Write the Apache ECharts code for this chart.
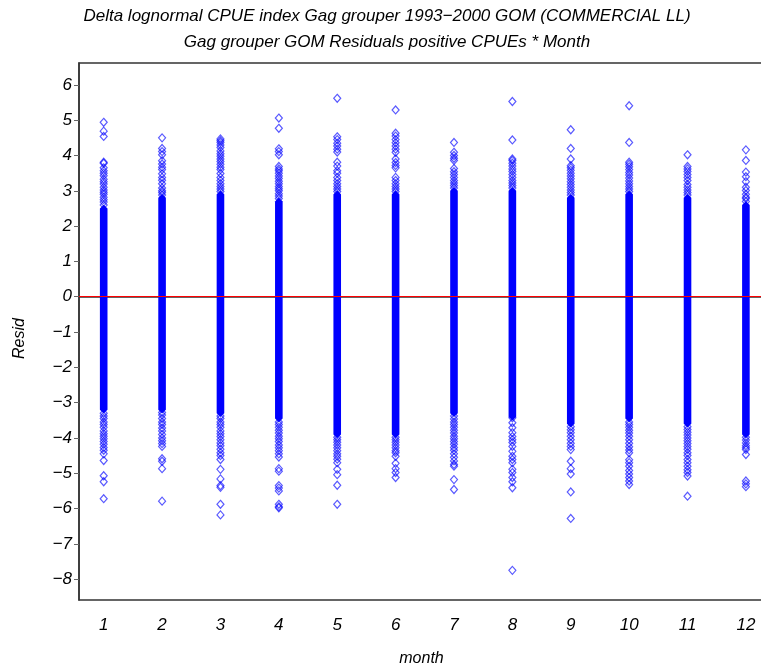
<!DOCTYPE html>
<html>
<head>
<meta charset="utf-8">
<script src="https://cdn.jsdelivr.net/npm/echarts@6/dist/echarts.min.js"></script>
<style>
  html, body { margin: 0; padding: 0; background: #ffffff; }
  #chart { width: 761px; height: 671px; }
</style>
</head>
<body>
<div id="chart"></div>
<script>
// Residuals of positive CPUE records by month (delta-lognormal model, gag grouper, GOM commercial longline)
const titleLines = [
  'Delta lognormal CPUE index Gag grouper 1993\u22122000 GOM (COMMERCIAL LL)',
  'Gag grouper GOM Residuals positive CPUEs * Month'
];
const months = [1, 2, 3, 4, 5, 6, 7, 8, 9, 10, 11, 12];
const yTicks = [6, 5, 4, 3, 2, 1, 0, -1, -2, -3, -4, -5, -6, -7, -8];

// Range of the solid, fully overplotted part of each month's column
const bandLow  = [-3.2, -3.2, -3.3, -3.45, -3.9, -3.9, -3.3, -3.4, -3.6, -3.45, -3.6, -3.9];
const bandHigh = [2.5, 2.8, 2.9, 2.7, 2.9, 2.9, 3.0, 3.0, 2.8, 2.9, 2.8, 2.6];

// Individually visible residuals above the solid band
const upperResid = [
  [2.6, 2.68, 2.75, 2.82, 2.9, 2.96, 3.02, 3.1, 3.19, 3.26, 3.33, 3.43, 3.5, 3.57, 3.65, 3.78, 3.81, 4.54, 4.69, 4.94],
  [2.88, 2.95, 3.0, 3.08, 3.2, 3.3, 3.38, 3.48, 3.6, 3.67, 3.76, 3.85, 4.02, 4.11, 4.2, 4.5],
  [2.98, 3.05, 3.12, 3.2, 3.29, 3.38, 3.49, 3.6, 3.67, 3.75, 3.83, 3.9, 3.98, 4.05, 4.13, 4.23, 4.3, 4.37, 4.42, 4.47],
  [2.78, 2.85, 2.92, 3.0, 3.06, 3.12, 3.2, 3.27, 3.35, 3.42, 3.5, 3.57, 3.62, 3.69, 4.02, 4.11, 4.19, 4.77, 5.06],
  [2.98, 3.05, 3.12, 3.2, 3.29, 3.38, 3.5, 3.57, 3.7, 3.81, 4.1, 4.18, 4.27, 4.35, 4.45, 4.53, 5.62],
  [2.98, 3.05, 3.12, 3.2, 3.29, 3.38, 3.65, 3.72, 3.8, 3.9, 4.09, 4.18, 4.27, 4.36, 4.45, 4.55, 4.63, 5.29],
  [3.08, 3.15, 3.22, 3.29, 3.38, 3.46, 3.54, 3.63, 3.86, 3.92, 4.0, 4.09, 4.37],
  [3.08, 3.15, 3.22, 3.29, 3.38, 3.46, 3.55, 3.62, 3.7, 3.78, 3.86, 3.9, 4.44, 5.53],
  [2.88, 2.95, 3.02, 3.1, 3.18, 3.26, 3.34, 3.42, 3.5, 3.58, 3.65, 3.71, 3.9, 4.2, 4.73],
  [2.98, 3.05, 3.12, 3.2, 3.28, 3.36, 3.45, 3.52, 3.6, 3.68, 3.75, 3.81, 4.37, 5.41],
  [2.88, 2.95, 3.02, 3.1, 3.18, 3.29, 3.38, 3.46, 3.55, 3.62, 3.69, 4.02],
  [2.7, 2.78, 2.82, 2.9, 3.01, 3.1, 3.26, 3.4, 3.53, 3.86, 4.16]
];

// Individually visible residuals below the solid band
const lowerResid = [
  [-3.3, -3.38, -3.45, -3.55, -3.62, -3.7, -3.8, -3.88, -3.95, -4.02, -4.1, -4.18, -4.27, -4.35, -4.45, -4.64, -5.07, -5.24, -5.72],
  [-3.28, -3.35, -3.45, -3.55, -3.62, -3.72, -3.8, -3.9, -4.0, -4.08, -4.16, -4.24, -4.59, -4.66, -4.87, -5.79],
  [-3.38, -3.45, -3.55, -3.62, -3.7, -3.8, -3.88, -3.96, -4.05, -4.14, -4.22, -4.32, -4.42, -4.5, -4.61, -4.89, -5.16, -5.35, -5.4, -5.88, -6.18],
  [-3.55, -3.62, -3.7, -3.78, -3.86, -3.95, -4.02, -4.1, -4.2, -4.28, -4.36, -4.45, -4.54, -4.87, -4.94, -5.35, -5.42, -5.5, -5.88, -5.95, -5.98],
  [-3.98, -4.05, -4.12, -4.2, -4.28, -4.36, -4.45, -4.52, -4.6, -4.7, -4.89, -5.04, -5.34, -5.88],
  [-3.98, -4.05, -4.12, -4.2, -4.28, -4.36, -4.42, -4.52, -4.72, -4.87, -4.98, -5.12],
  [-3.38, -3.46, -3.55, -3.62, -3.7, -3.78, -3.86, -3.95, -4.02, -4.1, -4.18, -4.27, -4.35, -4.45, -4.55, -4.65, -4.75, -4.8, -5.18, -5.46],
  [-3.43, -3.57, -3.71, -3.85, -3.96, -4.05, -4.13, -4.24, -4.38, -4.52, -4.61, -4.7, -4.89, -4.98, -5.12, -5.24, -5.41, -7.75],
  [-3.68, -3.77, -3.85, -3.95, -4.05, -4.15, -4.24, -4.33, -4.66, -4.87, -5.02, -5.53, -6.28],
  [-3.55, -3.62, -3.7, -3.78, -3.86, -3.95, -4.05, -4.15, -4.25, -4.34, -4.42, -4.62, -4.7, -4.8, -4.92, -5.02, -5.12, -5.22, -5.32],
  [-3.68, -3.76, -3.84, -3.92, -4.0, -4.08, -4.16, -4.24, -4.32, -4.42, -4.5, -4.61, -4.7, -4.8, -4.9, -4.98, -5.08, -5.65],
  [-3.98, -4.06, -4.14, -4.22, -4.28, -4.33, -4.47, -5.22, -5.3, -5.38]
];

const FONT = '"Liberation Sans", Arial, sans-serif';
const BLUE = '#0000ff';
const HALF = 3.8; // half-height of a diamond marker, px

const bandData = months.map((m, i) => [m, bandLow[i], bandHigh[i]]);
const pointData = [];
months.forEach((m, i) => {
  upperResid[i].forEach(v => pointData.push([m, v]));
  lowerResid[i].forEach(v => pointData.push([m, v]));
});

const chart = echarts.init(document.getElementById('chart'), null, { renderer: 'canvas' });

chart.setOption({
  animation: false,
  backgroundColor: '#ffffff',
  title: {
    text: titleLines.join('\n'),
    left: 382,
    textAlign: 'center',
    top: -2,
    textStyle: {
      fontFamily: FONT, fontStyle: 'italic', fontWeight: 'normal',
      fontSize: 17, lineHeight: 26, color: '#000'
    }
  },
  grid: {
    left: 79, top: 63, width: 685, height: 537,
    containLabel: false,
    outerBoundsMode: 'none',
    show: true, borderColor: '#333', borderWidth: 1.5, backgroundColor: 'transparent'
  },
  xAxis: {
    type: 'value',
    min: 0.577, max: 12.31,
    name: 'month', nameLocation: 'middle', nameGap: 51,
    nameTextStyle: { fontFamily: FONT, fontStyle: 'italic', fontSize: 16, color: '#000' },
    axisLine: { show: true, lineStyle: { color: '#333', width: 1.5 } },
    axisTick: { show: true, length: 6, customValues: months, lineStyle: { color: '#666' } },
    axisLabel: {
      customValues: months, margin: 17,
      fontFamily: FONT, fontStyle: 'italic', fontSize: 17, color: '#000'
    },
    splitLine: { show: false }
  },
  yAxis: {
    type: 'value',
    min: -8.59, max: 6.62,
    name: 'Resid', nameLocation: 'middle', nameGap: 51,
    nameTextStyle: { fontFamily: FONT, fontStyle: 'italic', fontSize: 16, color: '#000', padding: [0, 14, 0, 0] },
    axisLine: { show: true, lineStyle: { color: '#333', width: 1.5 } },
    axisTick: { show: true, length: 5, customValues: yTicks, lineStyle: { color: '#666' } },
    axisLabel: {
      customValues: yTicks, margin: 7,
      fontFamily: FONT, fontStyle: 'italic', fontSize: 17, color: '#000',
      formatter: v => String(v).replace('-', '\u2212')
    },
    splitLine: { show: false }
  },
  series: [
    {
      type: 'custom',
      name: 'dense',
      data: bandData,
      encode: { x: 0, y: [1, 2] },
      renderItem: (params, api) => {
        const m = api.value(0);
        const lo = api.coord([m, api.value(1)]);
        const hi = api.coord([m, api.value(2)]);
        const x = hi[0];
        return {
          type: 'polygon',
          shape: {
            points: [
              [x, hi[1] - HALF], [x + HALF, hi[1]], [x + HALF, lo[1]],
              [x, lo[1] + HALF], [x - HALF, lo[1]], [x - HALF, hi[1]]
            ]
          },
          style: { fill: BLUE }
        };
      },
      z: 2
    },
    {
      type: 'scatter',
      name: 'Resid',
      data: pointData,
      symbol: 'diamond',
      symbolSize: [7, 8],
      itemStyle: { color: 'rgba(0,0,0,0)', borderColor: BLUE, borderWidth: 1.2, opacity: 0.65 },
      z: 3,
      markLine: {
        silent: true,
        symbol: 'none',
        label: { show: false },
        lineStyle: { color: '#ff0000', width: 1, type: 'solid' },
        data: [{ yAxis: 0 }]
      }
    }
  ]
});
</script>
</body>
</html>
